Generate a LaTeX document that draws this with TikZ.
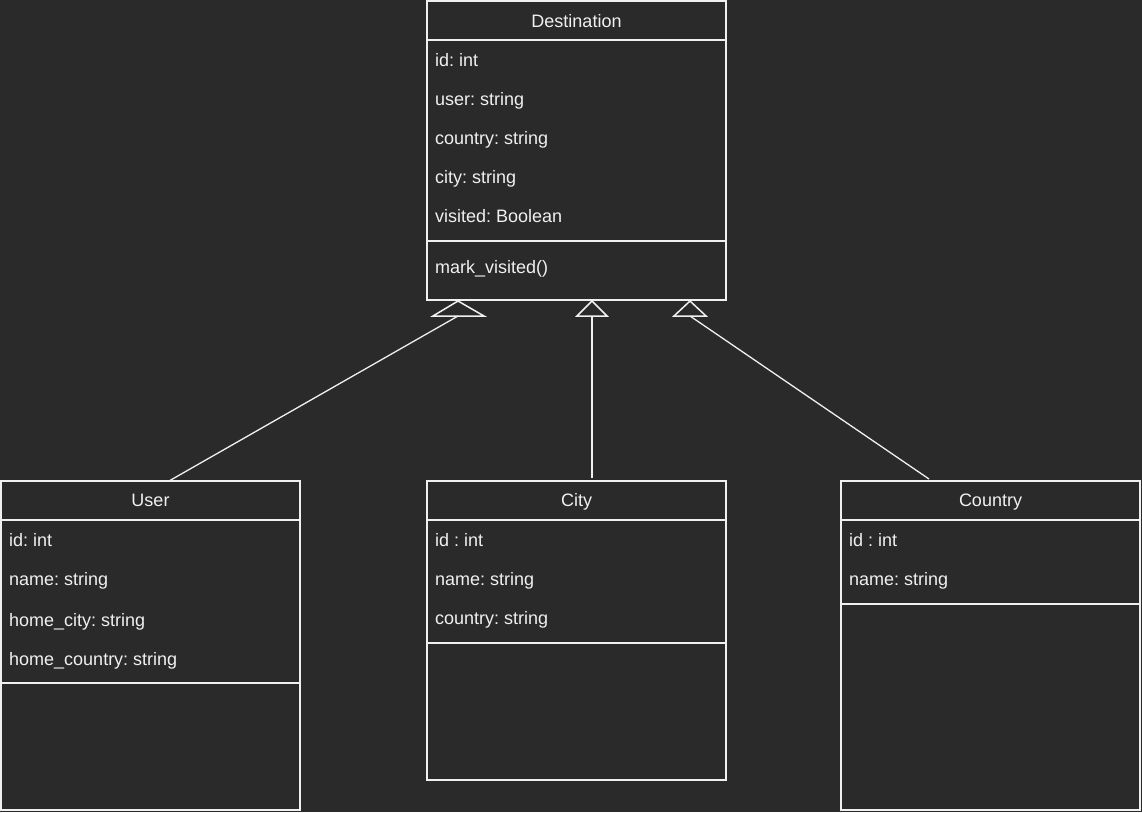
\documentclass[tikz,border=0pt]{standalone}
\usepackage{fontspec}
\setmainfont{Liberation Sans}
\usetikzlibrary{calc}
\definecolor{bgc}{HTML}{2A2A2A}
\definecolor{fgc}{HTML}{F0F0F0}
\frenchspacing
\begin{document}
\begin{tikzpicture}[x=1pt,y=-1pt,
  classbox/.style={draw=fgc,line width=1.5pt,rectangle,anchor=north west,inner sep=0pt,outer sep=0pt},
  sepline/.style={draw=fgc,line width=1.5pt},
  attr/.style={anchor=base west,text=fgc,inner sep=0pt,font=\fontsize{18}{20}\selectfont\frenchspacing},
  ctitle/.style={anchor=base,text=fgc,inner sep=0pt,font=\fontsize{18}{20}\selectfont},
  conn/.style={draw=fgc,line width=1.3pt},
  tri/.style={draw=fgc,line width=1.5pt,line join=miter}]
\fill[bgc] (0,0) rectangle (1142,812);
\useasboundingbox (0,0) rectangle (1142,812);

% Destination
\node[classbox,minimum width=299pt,minimum height=299pt] (dest) at (427,1) {};
\draw[sepline] (427,40) -- (726,40);
\draw[sepline] (427,241) -- (726,241);
\node[ctitle] (destT) at (576.5,27.5) {Destination};
\node[attr] (d1) at (435,66.5) {id: int};
\node[attr] (d2) at (435,105.5) {user: string};
\node[attr] (d3) at (435,144.5) {country: string};
\node[attr] (d4) at (435,183.5) {city: string};
\node[attr] (d5) at (435,222.5) {visited: Boolean};
\node[attr] (d6) at (435,273.5) {mark\_visited()};

% User
\node[classbox,minimum width=299pt,minimum height=329pt] (user) at (1,481) {};
\draw[sepline] (1,520) -- (300,520);
\draw[sepline] (1,683) -- (300,683);
\node[ctitle] (userT) at (150.5,506.8) {User};
\node[attr] (u1) at (9,546.5) {id: int};
\node[attr] (u2) at (9,585.5) {name: string};
\node[attr] (u3) at (9,626.5) {home\_city: string};
\node[attr] (u4) at (9,665.5) {home\_country: string};

% City
\node[classbox,minimum width=299pt,minimum height=299pt] (city) at (427,481) {};
\draw[sepline] (427,520) -- (726,520);
\draw[sepline] (427,643) -- (726,643);
\node[ctitle] (cityT) at (576.5,506.8) {City};
\node[attr] (c1) at (435,546.5) {id : int};
\node[attr] (c2) at (435,585.5) {name: string};
\node[attr] (c3) at (435,624.5) {country: string};

% Country
\node[classbox,minimum width=299pt,minimum height=329pt] (country) at (841,481) {};
\draw[sepline] (841,520) -- (1140,520);
\draw[sepline] (841,604) -- (1140,604);
\node[ctitle] (countryT) at (990.5,506.8) {Country};
\node[attr] (k1) at (849,546.5) {id : int};
\node[attr] (k2) at (849,585.5) {name: string};

% connectors with hollow triangles
\coordinate (uS) at (169,481);
\coordinate (uE) at (458,316);
\coordinate (cS) at (592,478);
\coordinate (cE) at (592,316);
\coordinate (kS) at (929,479);
\coordinate (kE) at (690,316);
\draw[conn] (uS) -- (uE);
\draw[conn] (cS) -- (cE);
\draw[conn] (kS) -- (kE);
\draw[tri] (433,316) -- (458,301) -- (484,316) -- cycle;
\draw[tri] (577,316) -- (592,301) -- (607,316) -- cycle;
\draw[tri] (674,316) -- (690,301) -- (706,316) -- cycle;
\end{tikzpicture}
\end{document}
